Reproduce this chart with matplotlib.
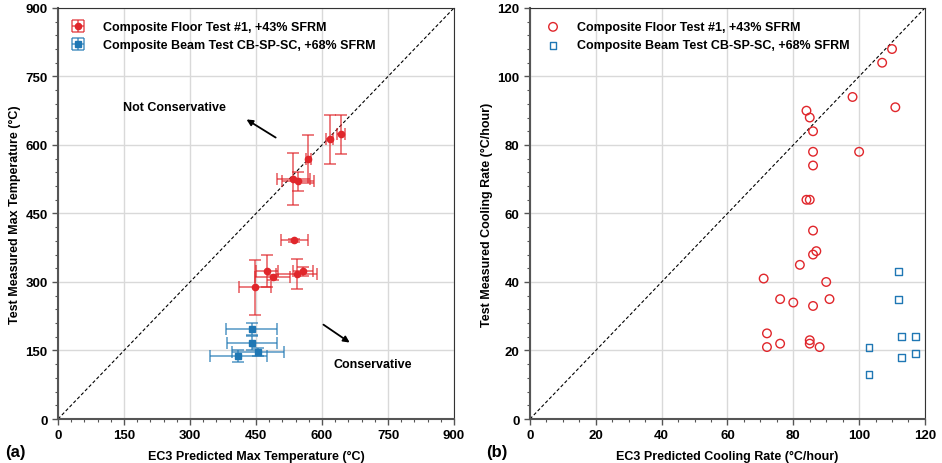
import matplotlib.pyplot as plt
from matplotlib.ticker import MultipleLocator
from matplotlib.colors import to_rgba

plt.rcParams['font.family'] = ['Liberation Sans', 'DejaVu Sans']
plt.rcParams['font.weight'] = 'bold'

red = '#e0262b'
blue = '#1f77b4'

# (a) max temperatures, Composite Floor Test #1
floor_pred = [618, 643, 569, 535, 545, 537, 476, 488, 448, 542, 557]
floor_meas = [612, 623, 569, 525, 520, 391, 324, 310, 288, 317, 323]
floor_xerr = [8, 9, 6, 38, 37, 30, 25, 40, 36, 46, 22]
floor_yerr = [53, 43, 53, 57, 20, 3, 36, 5, 60, 33, 10]

# (a) max temperatures, Composite Beam Test CB-SP-SC
beam_pred = [440, 440, 455, 410]
beam_meas = [197, 166, 146, 138]
beam_xerr = [58, 57, 59, 65]
beam_yerr = [13, 15, 9, 13]

# (b) cooling rates
floor_rate_pred = [110, 107, 98, 111, 84, 85, 86, 86, 100, 86, 84, 85, 86, 87,
                   86, 82, 71, 90, 76, 80, 86, 91, 72, 76, 72, 85, 85, 88]
floor_rate_meas = [108, 104, 94, 91, 90, 88, 84, 78, 78, 74, 64, 64, 55, 49,
                   48, 45, 41, 40, 35, 34, 33, 35, 25, 22, 21, 23, 22, 21]
beam_rate_pred = [112, 112, 113, 117, 103, 113, 117, 103]
beam_rate_meas = [43, 35, 24, 24, 21, 18, 19, 13]

label_floor = 'Composite Floor Test #1, +43% SFRM'
label_beam = 'Composite Beam Test CB-SP-SC, +68% SFRM'

fs = 9

fig = plt.figure(figsize=(9.42, 4.64), dpi=100)
ax1 = fig.add_axes([0.0616, 0.0948, 0.4204, 0.886])
ax2 = fig.add_axes([0.5626, 0.0948, 0.4193, 0.886])


def style_axes(ax):
    ax.grid(True, color='#d9d9d9', linewidth=1.0)
    ax.set_axisbelow(True)
    for s in ['left', 'bottom']:
        ax.spines[s].set_color('#555555')
        ax.spines[s].set_linewidth(1.5)
    for s in ['top', 'right']:
        ax.spines[s].set_color('#333333')
        ax.spines[s].set_linewidth(0.8)
    ax.tick_params(which='major', direction='out', length=4, width=1,
                   color='#555555', labelsize=fs + 0.5)
    ax.tick_params(which='minor', direction='out', length=2.5, width=0.8,
                   color='#555555')
    for t in ax.get_xticklabels() + ax.get_yticklabels():
        t.set_fontweight('bold')


# panel (a)
ax1.plot([0, 900], [0, 900], 'k--', linewidth=0.8, dashes=(3, 2), zorder=2)
ax1.errorbar(floor_pred, floor_meas, xerr=floor_xerr, yerr=floor_yerr,
             fmt='o', color=red, ecolor=to_rgba(red, 0.65), markersize=4.5,
             capsize=4, elinewidth=1.3, capthick=1.3, label=label_floor, zorder=3)
ax1.errorbar(beam_pred, beam_meas, xerr=beam_xerr, yerr=beam_yerr,
             fmt='s', color=blue, ecolor=to_rgba(blue, 0.65), markersize=4.5,
             capsize=4, elinewidth=1.3, capthick=1.3, label=label_beam, zorder=3)
ax1.set_xlim(0, 900)
ax1.set_ylim(0, 900)
ax1.xaxis.set_major_locator(MultipleLocator(150))
ax1.yaxis.set_major_locator(MultipleLocator(150))
ax1.xaxis.set_minor_locator(MultipleLocator(30))
ax1.yaxis.set_minor_locator(MultipleLocator(30))
ax1.set_xlabel('EC3 Predicted Max Temperature (°C)', fontsize=fs,
               fontweight='bold', labelpad=6)
ax1.set_ylabel('Test Measured Max Temperature (°C)', fontsize=fs,
               fontweight='bold', labelpad=3)
style_axes(ax1)
ax1.legend(loc='upper left', bbox_to_anchor=(0.019, 0.98), borderaxespad=0,
           frameon=False, handlelength=1.2, handletextpad=1.4, labelspacing=0.5,
           prop={'weight': 'bold', 'size': fs})
ax1.text(148, 683, 'Not Conservative', fontsize=fs, fontweight='bold', va='center')
ax1.annotate('', xy=(423, 659), xytext=(500, 613),
             arrowprops=dict(arrowstyle='-|>', color='black', lw=1.3,
                             mutation_scale=9))
ax1.text(625, 120, 'Conservative', fontsize=fs, fontweight='bold', va='center')
ax1.annotate('', xy=(668, 164), xytext=(598, 210),
             arrowprops=dict(arrowstyle='-|>', color='black', lw=1.3,
                             mutation_scale=9))

# panel (b)
ax2.plot([0, 120], [0, 120], 'k--', linewidth=0.8, dashes=(3, 2), zorder=2)
ax2.scatter(floor_rate_pred, floor_rate_meas, marker='o', s=38,
            facecolors='none', edgecolors=red, linewidths=1.0,
            label=label_floor, zorder=3)
ax2.scatter(beam_rate_pred, beam_rate_meas, marker='s', s=25,
            facecolors='none', edgecolors=blue, linewidths=1.0,
            label=label_beam, zorder=3)
ax2.set_xlim(0, 120)
ax2.set_ylim(0, 120)
ax2.xaxis.set_major_locator(MultipleLocator(20))
ax2.yaxis.set_major_locator(MultipleLocator(20))
ax2.xaxis.set_minor_locator(MultipleLocator(5))
ax2.yaxis.set_minor_locator(MultipleLocator(4))
ax2.set_xlabel('EC3 Predicted Cooling Rate (°C/hour)', fontsize=fs,
               fontweight='bold', labelpad=6)
ax2.set_ylabel('Test Measured Cooling Rate (°C/hour)', fontsize=fs,
               fontweight='bold', labelpad=3)
style_axes(ax2)
ax2.legend(loc='upper left', bbox_to_anchor=(0.033, 0.98), borderaxespad=0,
           frameon=False, handlelength=0.8, handletextpad=1.5, labelspacing=0.5,
           prop={'weight': 'bold', 'size': fs})

fig.text(0.005, 0.015, '(a)', fontsize=12, fontweight='bold')
fig.text(0.516, 0.015, '(b)', fontsize=12, fontweight='bold')

fig.savefig('out.png', dpi=100)
